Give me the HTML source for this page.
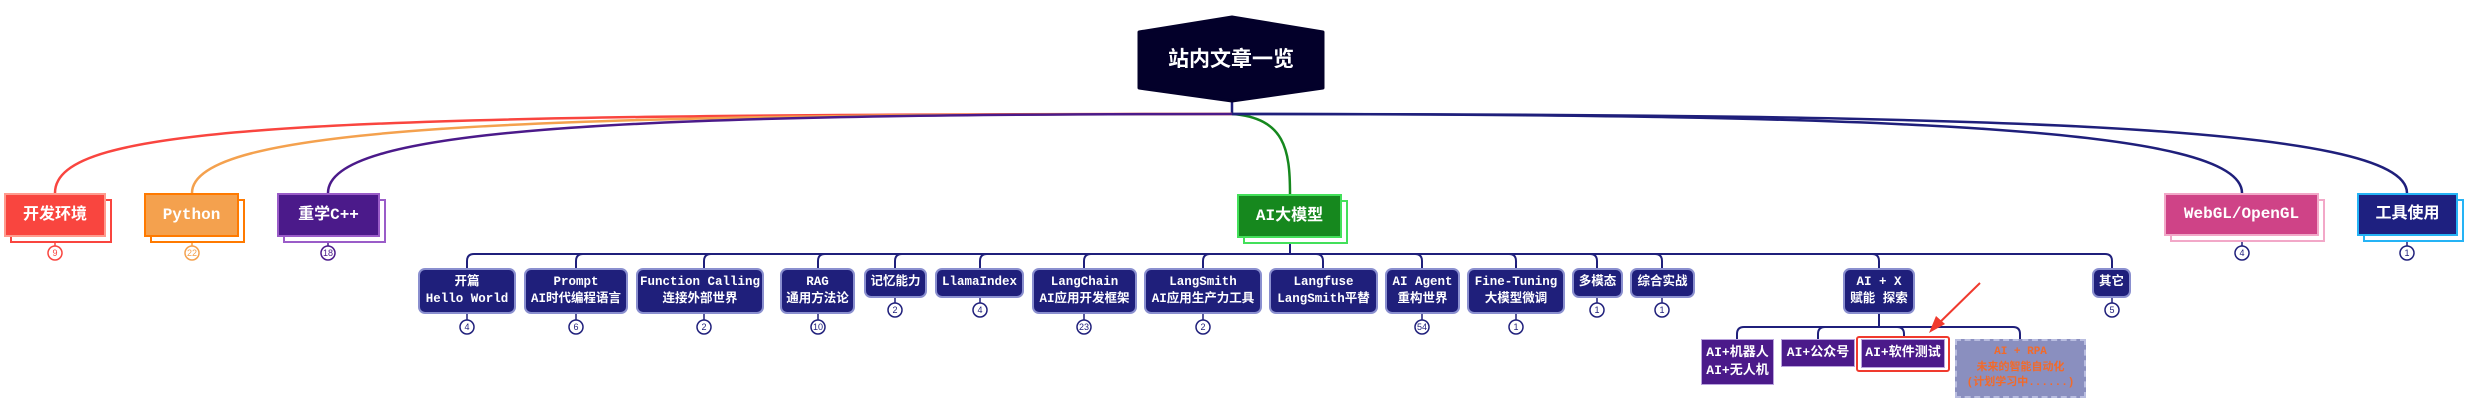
<!DOCTYPE html>
<html><head><meta charset="utf-8"><style>
body{margin:0;width:2470px;height:420px;background:#fff;position:relative;overflow:hidden;font-family:"Liberation Mono","Noto Sans CJK SC",monospace;font-weight:bold}
.b{position:absolute;box-sizing:border-box;display:flex;align-items:center;justify-content:center;text-align:center;color:#fff;line-height:1.4;white-space:nowrap}
.n{background:#1f1f7b;border:2px solid #8a8fcf;border-radius:7px;font-size:12.5px}
.s{background:#4b1a8a;font-size:13px;border:1px solid #b9a3dd}
.l1{font-size:16px}
.sh{position:absolute;box-sizing:border-box;background:#fff}
svg{position:absolute;left:0;top:0}
</style></head><body>
<svg width="2470" height="420" viewBox="0 0 2470 420" fill="none" stroke-width="2.5">
<path d="M1232 100 V114" stroke="#1f1f7b"/>
<path d="M1232 114 C300 114 55 125 55 193" stroke="#f9453f"/>
<path d="M1232 114 C500 114 192 128 192 193" stroke="#f4a14e"/>
<path d="M1232 114 C600 114 328 130 328 193" stroke="#4b1a8a"/>
<path d="M1232 114 C1285 118 1290 150 1290 194" stroke="#16881e"/>
<path d="M1232 114 C1900 114 2242 128 2242 193" stroke="#1f1f7b"/>
<path d="M1232 114 C2000 114 2407 125 2407 193" stroke="#1f1f7b"/>
<g stroke="#1f1f7b" stroke-width="2">
<path d="M1290 238 V254"/>
<path d="M474 254 H2105"/>
<path d="M467 268 V261 Q467 254 474 254"/><path d="M576 268 V261 Q576 254 583 254"/><path d="M704 268 V261 Q704 254 711 254"/><path d="M818 268 V261 Q818 254 825 254"/><path d="M895 268 V261 Q895 254 902 254"/><path d="M980 268 V261 Q980 254 987 254"/><path d="M1084 268 V261 Q1084 254 1091 254"/><path d="M1203 268 V261 Q1203 254 1210 254"/>
<path d="M1323 268 V261 Q1323 254 1316 254"/><path d="M1422 268 V261 Q1422 254 1415 254"/><path d="M1516 268 V261 Q1516 254 1509 254"/><path d="M1597 268 V261 Q1597 254 1590 254"/><path d="M1662 268 V261 Q1662 254 1655 254"/><path d="M1879 268 V261 Q1879 254 1872 254"/><path d="M2112 268 V261 Q2112 254 2105 254"/>
<path d="M1879 314 V327"/><path d="M1744 327 H2013"/>
<path d="M1737 339 V334 Q1737 327 1744 327"/><path d="M1818 339 V334 Q1818 327 1825 327"/><path d="M1904 339 V334 Q1904 327 1897 327"/><path d="M2020 339 V334 Q2020 327 2013 327"/>
</g>
<g stroke-width="1.5" fill="#fff">
<path d="M55 243 V246" stroke="#f9453f"/><circle cx="55" cy="253" r="7" stroke="#f9453f"/>
<path d="M192 243 V246" stroke="#f4a14e"/><circle cx="192" cy="253" r="7" stroke="#f4a14e"/>
<path d="M328 243 V246" stroke="#4b1a8a"/><circle cx="328" cy="253" r="7" stroke="#4b1a8a"/>
<path d="M2242 242 V246" stroke="#1f1f7b"/><circle cx="2242" cy="253" r="7" stroke="#1f1f7b"/>
<path d="M2407 242 V246" stroke="#1f1f7b"/><circle cx="2407" cy="253" r="7" stroke="#1f1f7b"/>
<g stroke="#1f1f7b">
<path d="M467 314 V320"/><circle cx="467" cy="327" r="7"/>
<path d="M576 314 V320"/><circle cx="576" cy="327" r="7"/>
<path d="M704 314 V320"/><circle cx="704" cy="327" r="7"/>
<path d="M818 314 V320"/><circle cx="818" cy="327" r="7"/>
<path d="M895 298 V303"/><circle cx="895" cy="310" r="7"/>
<path d="M980 298 V303"/><circle cx="980" cy="310" r="7"/>
<path d="M1084 314 V320"/><circle cx="1084" cy="327" r="7"/>
<path d="M1203 314 V320"/><circle cx="1203" cy="327" r="7"/>
<path d="M1422 314 V320"/><circle cx="1422" cy="327" r="7"/>
<path d="M1516 314 V320"/><circle cx="1516" cy="327" r="7"/>
<path d="M1597 298 V303"/><circle cx="1597" cy="310" r="7"/>
<path d="M1662 298 V303"/><circle cx="1662" cy="310" r="7"/>
<path d="M2112 298 V303"/><circle cx="2112" cy="310" r="7"/>
</g></g>
<g font-family="Liberation Sans,sans-serif" font-size="9" text-anchor="middle" font-weight="normal" fill="#1f1f7b">
<text x="55" y="256" fill="#f9453f">9</text><text x="192" y="256" fill="#f4a14e">22</text><text x="328" y="256" fill="#4b1a8a">18</text><text x="2242" y="256">4</text><text x="2407" y="256">1</text>
<text x="467" y="330">4</text><text x="576" y="330">6</text><text x="704" y="330">2</text><text x="818" y="330">10</text><text x="895" y="313">2</text><text x="980" y="313">4</text><text x="1084" y="330">23</text><text x="1203" y="330">2</text><text x="1422" y="330">54</text><text x="1516" y="330">1</text><text x="1597" y="313">1</text><text x="1662" y="313">1</text><text x="2112" y="313">5</text>
</g>
<path d="M1139 32 L1232 17 L1323 32 V88 L1232 101 L1139 88 Z" fill="#03002a" stroke="#03002a" stroke-width="3" stroke-linejoin="round"/>
<text x="1231" y="66" fill="#fff" font-size="21" font-weight="bold" text-anchor="middle" font-family="Liberation Sans,'Noto Sans CJK SC',sans-serif">站内文章一览</text>
<path d="M1980 283 L1933 329" stroke="#f03a2e" stroke-width="2"/>
<path d="M1929 333 L1936 316 L1945 324 Z" fill="#f03a2e"/>
</svg>

<div class="sh" style="left:10px;top:199px;width:102px;height:44px;border:2px solid #f9453f"></div>
<div class="b l1" style="left:4px;top:193px;width:102px;height:44px;background:#f9453f;border:2px solid #ff9b8e">开发环境</div>
<div class="sh" style="left:150px;top:199px;width:95px;height:44px;border:2px solid #ff7a00"></div>
<div class="b l1" style="left:144px;top:193px;width:95px;height:44px;background:#f4a14e;border:2px solid #ff7a00">Python</div>
<div class="sh" style="left:283px;top:199px;width:103px;height:44px;border:2px solid #9a5cc8"></div>
<div class="b l1" style="left:277px;top:193px;width:103px;height:44px;background:#4b1a8a;border:2px solid #9a5cc8">重学C++</div>
<div class="sh" style="left:1243px;top:200px;width:105px;height:44px;border:2px solid #43e05a"></div>
<div class="b l1" style="left:1237px;top:194px;width:105px;height:44px;background:#16881e;border:2px solid #43e05a">AI大模型</div>
<div class="sh" style="left:2170px;top:199px;width:155px;height:43px;border:2px solid #f2a8c8"></div>
<div class="b l1" style="left:2164px;top:193px;width:155px;height:43px;background:#cf4387;border:2px solid #f2a8c8">WebGL/OpenGL</div>
<div class="sh" style="left:2363px;top:199px;width:101px;height:43px;border:2px solid #25b3f5"></div>
<div class="b l1" style="left:2357px;top:193px;width:101px;height:43px;background:#1e2080;border:2px solid #25b3f5">工具使用</div>

<div class="b n" style="left:418px;top:268px;width:98px;height:46px">开篇<br>Hello World</div>
<div class="b n" style="left:524px;top:268px;width:104px;height:46px">Prompt<br>AI时代编程语言</div>
<div class="b n" style="left:636px;top:268px;width:128px;height:46px">Function Calling<br>连接外部世界</div>
<div class="b n" style="left:780px;top:268px;width:75px;height:46px">RAG<br>通用方法论</div>
<div class="b n" style="left:864px;top:268px;width:63px;height:30px">记忆能力</div>
<div class="b n" style="left:935px;top:268px;width:89px;height:30px">LlamaIndex</div>
<div class="b n" style="left:1032px;top:268px;width:105px;height:46px">LangChain<br>AI应用开发框架</div>
<div class="b n" style="left:1144px;top:268px;width:118px;height:46px">LangSmith<br>AI应用生产力工具</div>
<div class="b n" style="left:1269px;top:268px;width:109px;height:46px">Langfuse<br>LangSmith平替</div>
<div class="b n" style="left:1385px;top:268px;width:75px;height:46px">AI Agent<br>重构世界</div>
<div class="b n" style="left:1467px;top:268px;width:98px;height:46px">Fine-Tuning<br>大模型微调</div>
<div class="b n" style="left:1572px;top:268px;width:51px;height:30px">多模态</div>
<div class="b n" style="left:1630px;top:268px;width:65px;height:30px">综合实战</div>
<div class="b n" style="left:1843px;top:268px;width:72px;height:46px">AI + X<br>赋能 探索</div>
<div class="b n" style="left:2092px;top:268px;width:39px;height:30px">其它</div>

<div class="b s" style="left:1701px;top:339px;width:73px;height:46px">AI+机器人<br>AI+无人机</div>
<div class="b s" style="left:1781px;top:339px;width:74px;height:28px">AI+公众号</div>
<div style="position:absolute;left:1856px;top:336px;width:94px;height:36px;box-sizing:border-box;border:2px solid #f03a2e;border-radius:3px;background:#fff"></div>
<div class="b s" style="left:1861px;top:339px;width:84px;height:29px">AI+软件测试</div>
<div class="b" style="left:1955px;top:339px;width:131px;height:59px;background:#8a8fbf;border:2px dashed #b9bde0;color:#f26a2a;font-size:11px;line-height:1.45">AI + RPA<br>未来的智能自动化<br>(计划学习中......)</div>
</body></html>
